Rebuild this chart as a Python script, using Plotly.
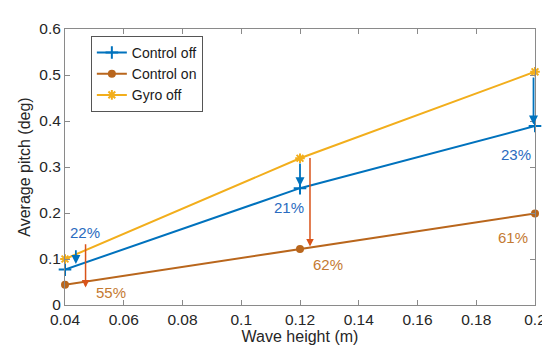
import plotly.graph_objects as go

wave_height = [0.04, 0.12, 0.2]
control_off = [0.077, 0.254, 0.389]
control_on = [0.044, 0.122, 0.199]
gyro_off = [0.100, 0.319, 0.507]
pct_off = ["22%", "21%", "23%"]
pct_on = ["55%", "62%", "61%"]

BLUE = "#0072BD"
ORANGE = "#D95319"
YELLOW = "#F2AE1C"
BROWN = "#B9661C"
FONT = "Liberation Sans, Arial, sans-serif"

fig = go.Figure()
fig.add_trace(go.Scatter(x=wave_height, y=control_off, name="Control off", mode="lines+markers",
                         line=dict(color=BLUE, width=2), cliponaxis=False,
                         marker=dict(symbol="cross-thin-open", size=9, line=dict(color=BLUE, width=2))))
fig.add_trace(go.Scatter(x=wave_height, y=control_on, name="Control on", mode="lines+markers",
                         line=dict(color=BROWN, width=2), cliponaxis=False,
                         marker=dict(symbol="circle", size=8, color=BROWN)))
fig.add_trace(go.Scatter(x=wave_height, y=gyro_off, name="Gyro off", mode="lines+markers",
                         line=dict(color=YELLOW, width=2), cliponaxis=False,
                         marker=dict(symbol="asterisk-open", size=8, line=dict(color=YELLOW, width=2))))

def interp(xs, ys, x):
    i = 0
    while i < len(xs) - 2 and x > xs[i + 1]:
        i += 1
    t = (x - xs[i]) / (xs[i + 1] - xs[i])
    return ys[i] + t * (ys[i + 1] - ys[i])

# arrow x offsets for each wave height: (blue arrow, orange arrow)
offs = [(0.0037, 0.0070), (0.0, 0.0034), (-0.0005, 0.0023)]
for i, x in enumerate(wave_height):
    db, do = offs[i]
    xb = x + db
    xo = x + do
    yb0 = interp(wave_height, gyro_off, xb) - 0.008
    yb1 = interp(wave_height, control_off, xb) + 0.004
    yo0 = interp(wave_height, gyro_off, xo) - 0.004
    yo1 = interp(wave_height, control_on, xo) + 0.002
    if i == 0:
        yb0 += 0.02
        yo0 += 0.02
        yo1 -= 0.015
    fig.add_annotation(x=xb, y=yb1, ax=xb, ay=yb0, axref="x", ayref="y", xref="x", yref="y",
                       showarrow=True, arrowhead=2, arrowsize=1, arrowwidth=1.8,
                       arrowcolor=BLUE, text="")
    fig.add_annotation(x=xo, y=yo1, ax=xo, ay=yo0, axref="x", ayref="y", xref="x", yref="y",
                       showarrow=True, arrowhead=2, arrowsize=1, arrowwidth=1.5,
                       arrowcolor=ORANGE, text="")

lab_off_pos = [(0.0467, 0.158), (0.1161, 0.211), (0.1935, 0.327)]
lab_on_pos = [(0.0555, 0.027), (0.1296, 0.089), (0.1926, 0.146)]
for (lx, ly), t in zip(lab_off_pos, pct_off):
    fig.add_annotation(x=lx, y=ly, text=t, showarrow=False,
                       font=dict(family=FONT, size=15, color="#2A6BC0"))
for (lx, ly), t in zip(lab_on_pos, pct_on):
    fig.add_annotation(x=lx, y=ly, text=t, showarrow=False,
                       font=dict(family=FONT, size=15, color="#C47A32"))

axis_common = dict(showline=True, linecolor="#8a8a8a", linewidth=1, mirror="ticks",
                   ticks="inside", ticklen=5, tickcolor="#8a8a8a", showgrid=False,
                   zeroline=False, tickfont=dict(family=FONT, size=15.5, color="#262626"))

fig.update_layout(
    width=550, height=353,
    margin=dict(l=57, r=18, t=13, b=56),
    paper_bgcolor="white", plot_bgcolor="white",
    font=dict(family=FONT, color="#262626"),
    xaxis=dict(range=[0.04, 0.2], tickvals=[0.04, 0.06, 0.08, 0.1, 0.12, 0.14, 0.16, 0.18, 0.2],
               ticktext=["0.04", "0.06", "0.08", "0.1", "0.12", "0.14", "0.16", "0.18", "0.2"],
               title=dict(text="Wave height (m)", font=dict(size=16, family=FONT), standoff=4),
               **axis_common),
    yaxis=dict(range=[0, 0.6], tickvals=[0, 0.1, 0.2, 0.3, 0.4, 0.5, 0.6],
               ticktext=["0", "0.1", "0.2", "0.3", "0.4", "0.5", "0.6"],
               title=dict(text="Average pitch (deg)", font=dict(size=16, family=FONT), standoff=4),
               **axis_common),
    legend=dict(x=0.055, y=0.975, xanchor="left", yanchor="top", bgcolor="white",
                bordercolor="#555555", borderwidth=1, font=dict(family=FONT, size=14, color="#1a1a1a"),
                tracegroupgap=0, itemwidth=30),
    showlegend=True,
)

fig.write_html("out.html")
